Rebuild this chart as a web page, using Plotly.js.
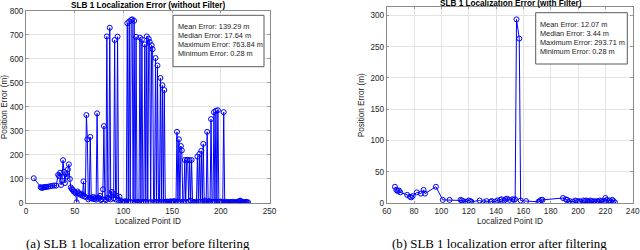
<!DOCTYPE html>
<html>
<head>
<meta charset="utf-8">
<script src="https://cdn.plot.ly/plotly-3.0.1.min.js"></script>
<style>
html,body{margin:0;padding:0;background:#fff;}
#chart{width:640px;height:250px;}
</style>
</head>
<body>
<div id="chart"></div>
<script>
// ---------- data: before filtering ----------
const idsBefore = [8,15,16,17,18,19,20,21,23,25,27,29,31,33,34,35,36,37,38,39,40,41,42,43,44,45,46,47,48,49,50,51,52,53,54,55,56,57,58,59,60,
  61,62,63,64,65,66,67,68,69,70,71,72,73,74,75,76,77,78,79,80,81,82,83,84,85,86,87,88,89,90,91,92,93,94,95,96,97,98,99,100,
  101,102,103,104,105,106,107,108,109,110,111,112,113,114,115,116,117,118,119,120,121,122,123,124,125,126,127,128,129,130,
  131,132,133,134,135,136,137,138,139,140,141,142,143,144,145,146,147,148,149,150,151,152,153,154,155,156,157,158,159,160,
  161,162,163,164,165,166,167,168,169,170,171,172,173,174,175,176,177,178,179,180,181,182,183,184,185,186,187,188,189,190,
  191,192,193,194,195,196,197,198,199,200,201,202,203,204,205,206,207,208,209,210,211,212,213,214,215,216,217,218,219,220,
  221,222,223,224,225,226,227,228];
const errBefore = [103,66,63,64,65,66,66,67,68,70,71,73,72,117,112,126,75,93,178,130,83,120,110,140,161,100,65,58,55,48,45,40,3,48,42,38,34,38,30,90,28,
  25,366,265,15,22,275,20,18,25,16,22,14,373,18,22,30,12,16,57,320,15,12,693,22,18,729,15,46,40,20,678,15,30,692,10,26,10,5,6,3,
  4,8,5,748,3,755,5,762,764,2,758,4,691,3,4,3,688,3,680,4,3,660,5,693,3,683,670,4,656,640,
  3,5,603,4,572,3,5,520,4,490,3,470,5,4,6,3,5,7,4,6,5,8,4,6,296,5,265,4,237,219,
  5,3,179,4,178,180,6,178,10,179,4,3,2,5,3,193,4,204,5,217,3,246,4,10,6,296,4,8,5,349,
  3,4,378,5,384,3,386,5,4,6,3,4,378,3,5,2,4,3,2,4,3,5,2,3,4,2,3,5,8,10,
  6,3,4,2,3,5,2,3];

// ---------- data: after filtering ----------
const idsAfter = [66,67,68,69,70,75,77,78,79,82,85,87,88,96,101,106,114,115,116,118,120,121,122,128,131,133,136,137,139,141,143,144,146,147,148,150,152,153,154,155,157,158,162,
  171,172,173,174,189,191,192,193,194,196,198,199,200,201,202,204,205,206,207,208,209,210,211,212,213,214,215,216,217,218,219,220,221,222,223,224,225,226,227];
const errAfter = [26,21,19,20,17,13,10,9,11,17,15,21,15,26,5,5,5,4,3,2,4,3,2,4,1,3,2,3,2,4,5,6,4,6,7,5,6,5,6,293.71,263,4,3,
  2,3,5,5,8,6,5,1,3,2,4,3,2,3,2,4,3,4,3,2,4,3,2,3,1,3,2,4,3,2,3,8,5,3,4,2,5,3,1];

// ---------- text ----------
const titleBefore = "SLB 1 Localization Error (without Filter)";
const titleAfter = "SLB 1 Localization Error (with Filter)";
const xTitle = "Localized Point ID";
const yTitle = "Position Error (m)";
const statsBefore = ["Mean Error: 139.29 m","Median Error: 17.64 m","Maximum Error: 763.84 m","Minimum Error: 0.28 m"];
const statsAfter = ["Mean Error: 12.07 m","Median Error: 3.44 m","Maximum Error: 293.71 m","Minimum Error: 0.28 m"];
const captionBefore = "(a) SLB 1 localization error before filtering";
const captionAfter = "(b) SLB 1 localization error after filtering";
const ticksXBefore = [0,50,100,150,200,250];
const ticksYBefore = [0,100,200,300,400,500,600,700,800];
const ticksXAfter = [60,80,100,120,140,160,180,200,220,240];
const ticksYAfter = [0,50,100,150,200,250,300];

const W = 640, H = 250;
const px = v => v / W;
const py = v => 1 - v / H;

const blue = '#0000ff';
const tickFont = {family:'Liberation Sans, Arial, sans-serif', size:8.2, color:'#262626'};
const trace = (x, y, xa, ya) => ({
  x, y, xaxis: xa, yaxis: ya, type:'scatter', mode:'lines+markers',
  line:{color:blue, width:1},
  marker:{symbol:'circle-open', size:5, color:blue, line:{width:1, color:blue}},
  hoverinfo:'skip', showlegend:false
});

const axisCommon = {
  showgrid:true, gridcolor:'#e3e3e3', gridwidth:1,
  showline:true, linecolor:'#8a8a8a', linewidth:1, mirror:'ticks',
  ticks:'inside', ticklen:2.5, tickcolor:'#8a8a8a', tickwidth:0.8,
  zeroline:false, tickfont:tickFont, automargin:false, fixedrange:true
};

const layout = {
  width:W, height:H, margin:{l:0,r:0,t:0,b:0},
  paper_bgcolor:'#fff', plot_bgcolor:'#fff',
  xaxis: Object.assign({}, axisCommon, {domain:[px(26), px(269.5)], range:[0,250], tickvals:ticksXBefore, anchor:'y'}),
  yaxis: Object.assign({}, axisCommon, {domain:[py(203), py(10.7)], range:[0,800], tickvals:ticksYBefore, anchor:'x'}),
  xaxis2: Object.assign({}, axisCommon, {domain:[px(386.7), px(632.7)], range:[60,240], tickvals:ticksXAfter, anchor:'y2'}),
  yaxis2: Object.assign({}, axisCommon, {domain:[py(203), py(6.7)], range:[0,314], tickvals:ticksYAfter, anchor:'x2'}),
  shapes: [
    {type:'rect', xref:'paper', yref:'paper', x0:px(173), x1:px(264), y0:py(66.7), y1:py(15.3),
      line:{color:'#5a5a5a', width:1}, fillcolor:'#ffffff', layer:'above'},
    {type:'rect', xref:'paper', yref:'paper', x0:px(535.7), x1:px(627.3), y0:py(64), y1:py(12.7),
      line:{color:'#5a5a5a', width:1}, fillcolor:'#ffffff', layer:'above'}
  ],
  annotations: []
};

// axis titles
const axTitle = (x, y, text, angle) => ({xref:'paper', yref:'paper', x:px(x), y:py(y), text, textangle:angle,
  showarrow:false, font:tickFont, xanchor:'center', yanchor:'middle'});
layout.annotations.push(axTitle(148, 221.7, xTitle, 0));
layout.annotations.push(axTitle(510, 221.7, xTitle, 0));
layout.annotations.push(axTitle(5.2, 107, yTitle, -90));
layout.annotations.push(axTitle(362.3, 105, yTitle, -90));

const titleFont = {family:'Liberation Sans, Arial, sans-serif', size:8.2, color:'#000', weight:'bold'};
layout.annotations.push({xref:'paper', yref:'paper', x:px(147.5), y:py(5), text:'<b>'+titleBefore+'</b>', showarrow:false, font:titleFont, xanchor:'center', yanchor:'middle'});
layout.annotations.push({xref:'paper', yref:'paper', x:px(510.5), y:py(3.5), text:'<b>'+titleAfter+'</b>', showarrow:false, font:titleFont, xanchor:'center', yanchor:'middle'});

const statFont = {family:'Liberation Sans, Arial, sans-serif', size:7.35, color:'#1a1a1a'};
statsBefore.forEach((s,i) => layout.annotations.push({xref:'paper', yref:'paper', x:px(175.5), y:py(26.7 + i*8.85), text:s,
  showarrow:false, font:statFont, xanchor:'left', yanchor:'middle'}));
statsAfter.forEach((s,i) => layout.annotations.push({xref:'paper', yref:'paper', x:px(538), y:py(25 + i*8.85), text:s,
  showarrow:false, font:statFont, xanchor:'left', yanchor:'middle'}));

const capFont = {family:'Liberation Serif, Times New Roman, serif', size:12.9, color:'#000'};
layout.annotations.push({xref:'paper', yref:'paper', x:px(137.5), y:py(243.5), text:captionBefore, showarrow:false, font:capFont, xanchor:'center', yanchor:'middle'});
layout.annotations.push({xref:'paper', yref:'paper', x:px(499.5), y:py(243.5), text:captionAfter, showarrow:false, font:capFont, xanchor:'center', yanchor:'middle'});

Plotly.newPlot('chart', [
  trace(idsBefore, errBefore, 'x', 'y'),
  trace(idsAfter, errAfter, 'x2', 'y2')
], layout, {staticPlot:true, displayModeBar:false});
</script>
</body>
</html>
